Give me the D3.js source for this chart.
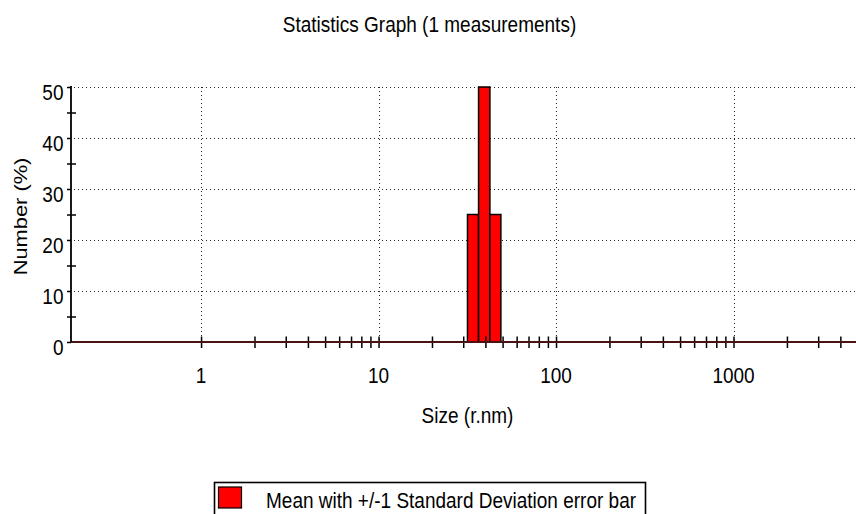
<!DOCTYPE html>
<html>
<head>
<meta charset="utf-8">
<script src="https://cdn.jsdelivr.net/npm/d3@7/dist/d3.min.js"></script>
<style>
  html, body { margin: 0; padding: 0; background: #fff; }
  svg { display: block; font-family: "Liberation Sans", Arial, sans-serif; }
</style>
</head>
<body>
<svg id="chart" width="856" height="514"></svg>
<script>
// ---- data ----
const titleText = "Statistics Graph (1 measurements)";
const xTitle = "Size (r.nm)";
const yTitle = "Number (%)";
const legendLabel = "Mean with +/-1 Standard Deviation error bar";
const sizeBinEdges = [31.7, 36.6, 42.4, 48.9];   // r.nm, bin edges
const numberPct = [25, 50, 25];                   // % per bin
const xTickValues = [1,2,3,4,5,6,7,8,9,10,20,30,40,50,60,70,80,90,100,200,300,400,500,600,700,800,900,1000,2000,3000,4000];
const xLabelValues = [1, 10, 100, 1000];
const yTickValues = [0, 10, 20, 30, 40, 50];
const yMinorValues = [5, 15, 25, 35, 45];
const xDomain = [0.185, 4900];
const yDomain = [0, 50];

// ---- layout ----
const svg = d3.select("#chart");
const pL = 71, pR = 856, pT = 87, pB = 342;
const FS = 19, SY = 1.15;

const x = d3.scaleLog().domain(xDomain).range([pL, pR]);
const y = d3.scaleLinear().domain(yDomain).range([pB, pT]);

function stretchedText(g, tx, ty, str, anchor, size) {
  return g.append("text")
    .attr("transform", `translate(${tx},${ty}) scale(1,${SY})`)
    .attr("text-anchor", anchor)
    .attr("font-size", size || FS)
    .attr("fill", "#000")
    .text(str);
}

// title
stretchedText(svg, 429.5, 31.7, titleText, "middle");

// grid
const grid = svg.append("g").attr("stroke", "#222").attr("stroke-width", 1).attr("stroke-dasharray", "1,3");
grid.selectAll("line.h").data(yTickValues.filter(v => v > 0)).join("line")
  .attr("x1", pL + 3).attr("x2", pR)
  .attr("y1", d => Math.round(y(d)) + 0.5).attr("y2", d => Math.round(y(d)) + 0.5);
grid.selectAll("line.v").data(xLabelValues).join("line")
  .attr("x1", d => Math.round(x(d)) + 0.5).attr("x2", d => Math.round(x(d)) + 0.5)
  .attr("y1", pT).attr("y2", pB);

// bars
const bins = numberPct.map((v, i) => ({ lo: sizeBinEdges[i], hi: sizeBinEdges[i + 1], v }));
svg.append("g").selectAll("rect").data(bins).join("rect")
  .attr("x", d => x(d.lo))
  .attr("width", d => x(d.hi) - x(d.lo))
  .attr("y", d => y(d.v))
  .attr("height", d => y(0) - y(d.v))
  .attr("fill", "#ff0000")
  .attr("stroke", "#000")
  .attr("stroke-width", 1.5);

// x axis
const xAxis = d3.axisBottom(x).tickValues(xTickValues).tickSize(6).tickFormat("");
const gx = svg.append("g").attr("transform", `translate(0,${pB})`).call(xAxis);
gx.select(".domain").remove();
gx.selectAll(".tick line").attr("y1", -5.5).attr("y2", 6).attr("stroke", "#000").attr("stroke-width", 1.5);
svg.append("line")
  .attr("x1", pL).attr("x2", pR).attr("y1", y(0)).attr("y2", y(0))
  .attr("stroke", "#4a1212").attr("stroke-width", 2);
xLabelValues.forEach(v => stretchedText(svg, x(v), 383.3, String(v), "middle"));
stretchedText(svg, 467.5, 423.3, xTitle, "middle");

// y axis
const yAxis = d3.axisLeft(y).tickValues(yTickValues).tickSize(4).tickFormat("");
const gy = svg.append("g").attr("transform", `translate(${pL},0)`).call(yAxis);
gy.select(".domain").remove();
gy.selectAll(".tick line").attr("stroke", "#000").attr("stroke-width", 1.5);
const yMinorAxis = d3.axisLeft(y).tickValues(yMinorValues).tickSize(4).tickFormat("");
const gym = svg.append("g").attr("transform", `translate(${pL},0)`).call(yMinorAxis);
gym.select(".domain").remove();
gym.selectAll(".tick line").attr("x1", 5).attr("stroke", "#000").attr("stroke-width", 1.5);
svg.append("line")
  .attr("x1", pL).attr("x2", pL).attr("y1", pT - 1).attr("y2", pB)
  .attr("stroke", "#000").attr("stroke-width", 1.8);
yTickValues.forEach(v => stretchedText(svg, 63.5, y(v) + 13, String(v), "end"));
svg.append("text")
  .attr("transform", `translate(27,216.5) rotate(-90) scale(${SY},1)`)
  .attr("text-anchor", "middle")
  .attr("font-size", FS)
  .text(yTitle);

// legend
const lg = svg.append("g");
lg.append("rect")
  .attr("x", 214.5).attr("y", 482.5).attr("width", 431).attr("height", 40)
  .attr("fill", "none").attr("stroke", "#000").attr("stroke-width", 1.6);
lg.append("rect")
  .attr("x", 218.5).attr("y", 487).attr("width", 23).attr("height", 21)
  .attr("fill", "#ff0000").attr("stroke", "#000").attr("stroke-width", 1.2);
stretchedText(lg, 266, 508, legendLabel, "start");
</script>
</body>
</html>
